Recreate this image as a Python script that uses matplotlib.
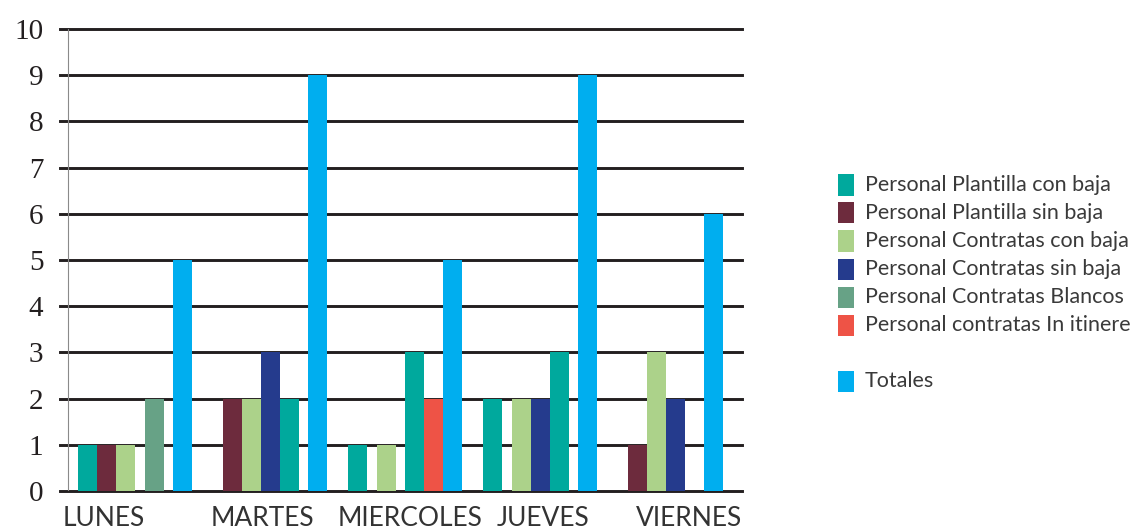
import matplotlib.pyplot as plt
from matplotlib.patches import Rectangle

dias = ["LUNES", "MARTES", "MIERCOLES", "JUEVES", "VIERNES"]
nombres = [
    "Personal Plantilla con baja",
    "Personal Plantilla sin baja",
    "Personal Contratas con baja",
    "Personal Contratas sin baja",
    "Personal Contratas Blancos",
    "Personal contratas In itinere",
    "Totales",
]
plantilla_con_baja = [1, 0, 1, 2, 0]
plantilla_sin_baja = [1, 2, 0, 0, 1]
contratas_con_baja = [1, 2, 1, 2, 3]
contratas_sin_baja = [0, 3, 0, 2, 2]
contratas_blancos = [2, 2, 3, 3, 0]
contratas_itinere = [0, 0, 2, 0, 0]
totales = [5, 9, 5, 9, 6]

colores = ["#00A99D", "#6D2B3D", "#ACD28A", "#253B8D", "#67A286", "#EE5346", "#00AEEF"]
# in the original the blancos bars are teal except on lunes
color_blancos = ["#67A286", "#00A99D", "#00A99D", "#00A99D", "#00A99D"]

valores = [plantilla_con_baja, plantilla_sin_baja, contratas_con_baja,
           contratas_sin_baja, contratas_blancos, contratas_itinere, totales]

W, H = 1142, 529
fig = plt.figure(figsize=(W / 100, H / 100), dpi=100)
ax = fig.add_axes([60 / W, 38 / H, 682 / W, 462 / H])

slot = 19.0  # px per bar
inicio = 18 / slot
paso = 135 / slot
# day labels are not centred on the groups in the original (px shift from group start)
desfase_etiqueta = [-15, -2, -10, 14, 18]

for d in range(len(dias)):
    x = inicio + d * paso
    ax.text(x + desfase_etiqueta[d] / slot, -0.33, dias[d], ha="left", va="top",
            family="Lato", fontsize=19, color="#333333")
    for s, serie in enumerate(valores):
        v = serie[d]
        w = 1.0 if v > 0 else 0.5  # empty slots only leave half a gap
        if v > 0:
            c = color_blancos[d] if s == 4 else colores[s]
            ax.bar(x, v, width=w, align="edge", color=c, zorder=3, linewidth=0)
        x += w

for y in range(11):
    ax.axhline(y, color="#231F20", lw=2.1, zorder=1, clip_on=False)
ax.axvline(8 / slot, color="#8a8a8a", lw=0.8, zorder=2)

ax.set_xlim(0, 682 / slot)
ax.set_ylim(0, 10)
for sp in ax.spines.values():
    sp.set_visible(False)

ax.set_yticks(range(11))
ax.set_yticklabels([str(i) for i in range(11)], family="Liberation Serif",
                   fontsize=21, color="#231F20")
ax.set_xticks([])
ax.tick_params(axis="y", length=0, pad=12)

# legend
filas = [0, 1, 2, 3, 4, 5, 7]
for nombre, color, fila in zip(nombres, colores, filas):
    yc = 185 + fila * 28
    fig.add_artist(Rectangle((838 / W, 1 - (yc + 10.5) / H), 16 / W, 21 / H,
                             transform=fig.transFigure, color=color, lw=0))
    fig.text(865 / W, 1 - yc / H, nombre, family="Lato", fontsize=15.5,
             color="#3a3a3a", va="center", ha="left")

fig.savefig("out.png", dpi=100)
